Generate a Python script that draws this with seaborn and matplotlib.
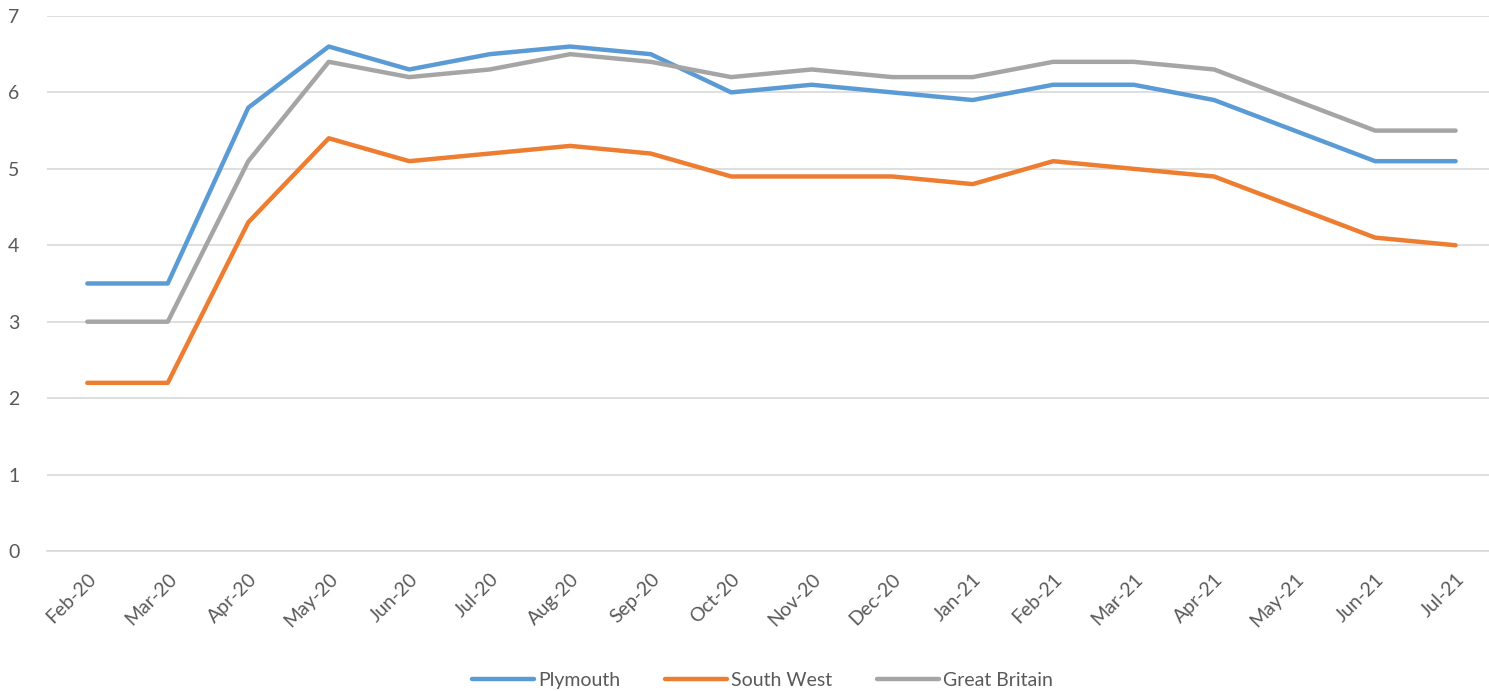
import pandas as pd
import matplotlib.pyplot as plt
import seaborn as sns
import numpy as np

months = ["Feb-20", "Mar-20", "Apr-20", "May-20", "Jun-20", "Jul-20", "Aug-20", "Sep-20",
          "Oct-20", "Nov-20", "Dec-20", "Jan-21", "Feb-21", "Mar-21", "Apr-21", "May-21",
          "Jun-21", "Jul-21"]
plymouth = [3.5, 3.5, 5.8, 6.6, 6.3, 6.5, 6.6, 6.5, 6.0, 6.1, 6.0, 5.9, 6.1, 6.1, 5.9, 5.5, 5.1, 5.1]
south_west = [2.2, 2.2, 4.3, 5.4, 5.1, 5.2, 5.3, 5.2, 4.9, 4.9, 4.9, 4.8, 5.1, 5.0, 4.9, 4.5, 4.1, 4.0]
great_britain = [3.0, 3.0, 5.1, 6.4, 6.2, 6.3, 6.5, 6.4, 6.2, 6.3, 6.2, 6.2, 6.4, 6.4, 6.3, 5.9, 5.5, 5.5]

series = {"Plymouth": plymouth, "South West": south_west, "Great Britain": great_britain}
colors = {"Plymouth": "#5B9BD5", "South West": "#ED7D31", "Great Britain": "#A5A5A5"}

rows = []
for name, vals in series.items():
    for i, v in enumerate(vals):
        rows.append({"pos": i, "month": months[i], "value": v, "series": name})
df = pd.DataFrame(rows)

sns.set_style("white")
plt.rcParams['font.family'] = ['Lato', 'DejaVu Sans']

fig = plt.figure(figsize=(14.89, 6.91), dpi=100)
# plot area reaches slightly past the right edge, like the original
ax = fig.add_axes([0.0316, 0.2026, 0.973, 0.7743])

sns.lineplot(data=df, x="pos", y="value", hue="series", palette=colors, ax=ax,
             linewidth=3.2, sort=False, solid_capstyle="round", solid_joinstyle="round")

ax.set_xlim(-0.5, len(months) - 0.5)
ax.set_ylim(0, 7)
ax.set_yticks(range(0, 8))
ax.yaxis.grid(True, color="#D9D9D9", linewidth=1.2)
ax.set_axisbelow(True)
for s in ["top", "right", "left"]:
    ax.spines[s].set_visible(False)
ax.spines["bottom"].set_color("#D9D9D9")
ax.spines["bottom"].set_linewidth(1.2)

ax.set_xticks(range(len(months)))
ax.set_xticklabels(months, rotation=45, ha="right", rotation_mode="anchor")
ax.set_xticks(np.arange(-0.5, len(months), 1), minor=True)
ax.tick_params(axis="x", which="major", length=0, labelsize=14, colors="#595959", pad=14)
ax.tick_params(axis="x", which="minor", length=6, color="#D9D9D9", width=1.2)
ax.tick_params(axis="y", length=0, labelsize=14, colors="#595959", pad=20)
ax.set_xlabel("")
ax.set_ylabel("")

ax.legend(loc="lower center", bbox_to_anchor=(0.512, -0.022), ncol=3, frameon=False,
          fontsize=14, handlelength=3.2, columnspacing=2.3, handletextpad=0.2,
          labelcolor="#595959", bbox_transform=fig.transFigure)

fig.savefig("out.png", dpi=100)
